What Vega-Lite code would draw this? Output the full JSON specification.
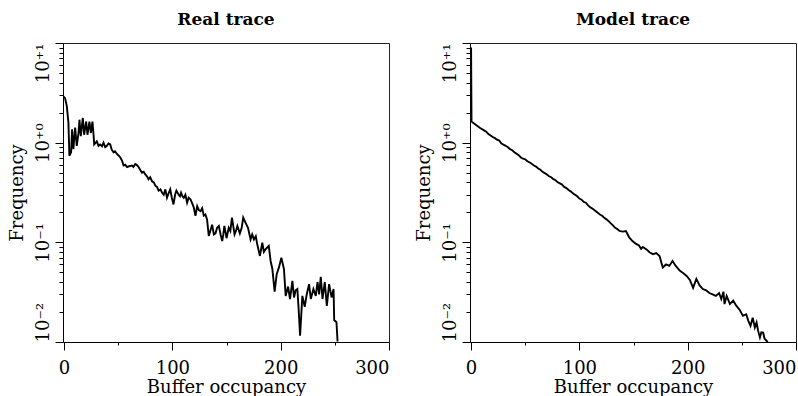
{
  "$schema": "https://vega.github.io/schema/vega-lite/v6.json",
  "background": "white",
  "padding": {"left": 7, "top": 10, "right": 0, "bottom": 0},
  "spacing": 24,
  "config": {
    "view": {"stroke": "#222", "strokeWidth": 1},
    "font": "DejaVu Serif",
    "title": {"font": "DejaVu Serif", "fontSize": 17, "fontWeight": "bold", "color": "black", "offset": 14},
    "axis": {
      "grid": false,
      "domainColor": "black",
      "tickColor": "black",
      "labelColor": "black",
      "titleColor": "black",
      "labelFont": "DejaVu Serif",
      "titleFont": "DejaVu Serif",
      "labelFontSize": 18,
      "titleFontSize": 18,
      "titleFontWeight": "normal"
    }
  },
  "datasets": {
    "real": [
      {"occupancy": -0.6, "frequency": 2.92}, {"occupancy": 0.9, "frequency": 2.8}, {"occupancy": 2.5, "frequency": 2.33}, {"occupancy": 4, "frequency": 1.6}, {"occupancy": 4.9, "frequency": 0.74}, {"occupancy": 6.5, "frequency": 0.8}, {"occupancy": 7.4, "frequency": 1.36}, {"occupancy": 8.6, "frequency": 0.86}, {"occupancy": 10.2, "frequency": 1.42}, {"occupancy": 11.7, "frequency": 0.93}, {"occupancy": 13.3, "frequency": 1.25}, {"occupancy": 14.2, "frequency": 1.7}, {"occupancy": 15.4, "frequency": 1.16}, {"occupancy": 17.3, "frequency": 1.77}, {"occupancy": 18.5, "frequency": 1.2}, {"occupancy": 20.4, "frequency": 1.63}, {"occupancy": 21.6, "frequency": 1.2}, {"occupancy": 23.4, "frequency": 1.63}, {"occupancy": 24.7, "frequency": 1.25}, {"occupancy": 26.2, "frequency": 1.63}, {"occupancy": 27.2, "frequency": 1.2}, {"occupancy": 27.8, "frequency": 0.96}, {"occupancy": 30.2, "frequency": 1.03}, {"occupancy": 31.8, "frequency": 0.93}, {"occupancy": 33.3, "frequency": 0.96}, {"occupancy": 35, "frequency": 0.92}, {"occupancy": 36.4, "frequency": 1.0}, {"occupancy": 38, "frequency": 0.9}, {"occupancy": 39.5, "frequency": 0.93}, {"occupancy": 41, "frequency": 0.98}, {"occupancy": 42.6, "frequency": 0.96}, {"occupancy": 44, "frequency": 0.85}, {"occupancy": 45.7, "frequency": 0.8}, {"occupancy": 47, "frequency": 0.82}, {"occupancy": 48.8, "frequency": 0.77}, {"occupancy": 50.5, "frequency": 0.74}, {"occupancy": 51.9, "frequency": 0.71}, {"occupancy": 53.5, "frequency": 0.66}, {"occupancy": 54.9, "frequency": 0.59}, {"occupancy": 56.5, "frequency": 0.6}, {"occupancy": 58, "frequency": 0.57}, {"occupancy": 60, "frequency": 0.58}, {"occupancy": 62.7, "frequency": 0.59}, {"occupancy": 64, "frequency": 0.57}, {"occupancy": 65.7, "frequency": 0.61}, {"occupancy": 67, "frequency": 0.6}, {"occupancy": 68.8, "frequency": 0.57}, {"occupancy": 70.5, "frequency": 0.53}, {"occupancy": 71.9, "frequency": 0.5}, {"occupancy": 73.5, "frequency": 0.51}, {"occupancy": 75, "frequency": 0.48}, {"occupancy": 76.5, "frequency": 0.46}, {"occupancy": 78, "frequency": 0.43}, {"occupancy": 79.5, "frequency": 0.45}, {"occupancy": 81.2, "frequency": 0.41}, {"occupancy": 82.8, "frequency": 0.4}, {"occupancy": 84.3, "frequency": 0.37}, {"occupancy": 85.8, "frequency": 0.36}, {"occupancy": 87.3, "frequency": 0.33}, {"occupancy": 89, "frequency": 0.34}, {"occupancy": 90.5, "frequency": 0.315}, {"occupancy": 92, "frequency": 0.3}, {"occupancy": 93.5, "frequency": 0.34}, {"occupancy": 95, "frequency": 0.28}, {"occupancy": 96.5, "frequency": 0.31}, {"occupancy": 98, "frequency": 0.34}, {"occupancy": 99.5, "frequency": 0.28}, {"occupancy": 101, "frequency": 0.24}, {"occupancy": 102.5, "frequency": 0.3}, {"occupancy": 103.7, "frequency": 0.33}, {"occupancy": 105.8, "frequency": 0.3}, {"occupancy": 107, "frequency": 0.29}, {"occupancy": 108, "frequency": 0.315}, {"occupancy": 109.3, "frequency": 0.29}, {"occupancy": 110.5, "frequency": 0.28}, {"occupancy": 112, "frequency": 0.3}, {"occupancy": 113.6, "frequency": 0.25}, {"occupancy": 115, "frequency": 0.28}, {"occupancy": 116.7, "frequency": 0.27}, {"occupancy": 118, "frequency": 0.25}, {"occupancy": 119.7, "frequency": 0.225}, {"occupancy": 121.3, "frequency": 0.185}, {"occupancy": 122.9, "frequency": 0.23}, {"occupancy": 124.5, "frequency": 0.21}, {"occupancy": 126, "frequency": 0.205}, {"occupancy": 127.5, "frequency": 0.22}, {"occupancy": 129, "frequency": 0.185}, {"occupancy": 130.5, "frequency": 0.19}, {"occupancy": 132, "frequency": 0.17}, {"occupancy": 133.6, "frequency": 0.116}, {"occupancy": 135, "frequency": 0.13}, {"occupancy": 136.7, "frequency": 0.15}, {"occupancy": 138.3, "frequency": 0.12}, {"occupancy": 139.8, "frequency": 0.123}, {"occupancy": 141.3, "frequency": 0.14}, {"occupancy": 142.9, "frequency": 0.146}, {"occupancy": 144.5, "frequency": 0.12}, {"occupancy": 146, "frequency": 0.103}, {"occupancy": 147, "frequency": 0.12}, {"occupancy": 148, "frequency": 0.146}, {"occupancy": 150, "frequency": 0.11}, {"occupancy": 152, "frequency": 0.14}, {"occupancy": 153.5, "frequency": 0.13}, {"occupancy": 155, "frequency": 0.177}, {"occupancy": 157.4, "frequency": 0.12}, {"occupancy": 158.7, "frequency": 0.13}, {"occupancy": 160, "frequency": 0.146}, {"occupancy": 162.3, "frequency": 0.123}, {"occupancy": 164, "frequency": 0.14}, {"occupancy": 165.4, "frequency": 0.177}, {"occupancy": 167.6, "frequency": 0.157}, {"occupancy": 169.8, "frequency": 0.14}, {"occupancy": 172.2, "frequency": 0.107}, {"occupancy": 173.7, "frequency": 0.12}, {"occupancy": 175.3, "frequency": 0.107}, {"occupancy": 177, "frequency": 0.115}, {"occupancy": 178.4, "frequency": 0.095}, {"occupancy": 180.8, "frequency": 0.073}, {"occupancy": 183, "frequency": 0.099}, {"occupancy": 184.5, "frequency": 0.08}, {"occupancy": 186, "frequency": 0.085}, {"occupancy": 189, "frequency": 0.092}, {"occupancy": 190.7, "frequency": 0.065}, {"occupancy": 192.3, "frequency": 0.054}, {"occupancy": 194.4, "frequency": 0.032}, {"occupancy": 196.3, "frequency": 0.048}, {"occupancy": 198.4, "frequency": 0.056}, {"occupancy": 200.6, "frequency": 0.07}, {"occupancy": 203, "frequency": 0.054}, {"occupancy": 204.6, "frequency": 0.029}, {"occupancy": 206.8, "frequency": 0.036}, {"occupancy": 208.6, "frequency": 0.027}, {"occupancy": 210.8, "frequency": 0.041}, {"occupancy": 212.3, "frequency": 0.028}, {"occupancy": 213.8, "frequency": 0.033}, {"occupancy": 215.4, "frequency": 0.034}, {"occupancy": 216.5, "frequency": 0.022}, {"occupancy": 217.9, "frequency": 0.0116}, {"occupancy": 220, "frequency": 0.029}, {"occupancy": 222.2, "frequency": 0.0225}, {"occupancy": 224, "frequency": 0.03}, {"occupancy": 226.2, "frequency": 0.038}, {"occupancy": 227.8, "frequency": 0.027}, {"occupancy": 230.2, "frequency": 0.034}, {"occupancy": 232.4, "frequency": 0.029}, {"occupancy": 234, "frequency": 0.04}, {"occupancy": 235.5, "frequency": 0.03}, {"occupancy": 237, "frequency": 0.045}, {"occupancy": 238.6, "frequency": 0.027}, {"occupancy": 240.7, "frequency": 0.04}, {"occupancy": 242.6, "frequency": 0.023}, {"occupancy": 244.7, "frequency": 0.038}, {"occupancy": 247, "frequency": 0.028}, {"occupancy": 248.8, "frequency": 0.034}, {"occupancy": 249.4, "frequency": 0.0166}, {"occupancy": 251.5, "frequency": 0.0158}, {"occupancy": 252.5, "frequency": 0.0101}
    ],
    "model": [
      {"occupancy": 0, "frequency": 9.0}, {"occupancy": 0.4, "frequency": 1.63}, {"occupancy": 4, "frequency": 1.52}, {"occupancy": 8, "frequency": 1.41}, {"occupancy": 12, "frequency": 1.33}, {"occupancy": 14, "frequency": 1.29}, {"occupancy": 16, "frequency": 1.22}, {"occupancy": 20, "frequency": 1.14}, {"occupancy": 22, "frequency": 1.11}, {"occupancy": 24, "frequency": 1.07}, {"occupancy": 26, "frequency": 1.05}, {"occupancy": 28, "frequency": 0.98}, {"occupancy": 32, "frequency": 0.93}, {"occupancy": 34, "frequency": 0.90}, {"occupancy": 36, "frequency": 0.86}, {"occupancy": 38, "frequency": 0.84}, {"occupancy": 40, "frequency": 0.8}, {"occupancy": 44, "frequency": 0.75}, {"occupancy": 46, "frequency": 0.71}, {"occupancy": 48, "frequency": 0.69}, {"occupancy": 50, "frequency": 0.68}, {"occupancy": 52, "frequency": 0.65}, {"occupancy": 55, "frequency": 0.626}, {"occupancy": 58, "frequency": 0.59}, {"occupancy": 60, "frequency": 0.575}, {"occupancy": 62, "frequency": 0.55}, {"occupancy": 64, "frequency": 0.535}, {"occupancy": 66, "frequency": 0.51}, {"occupancy": 68, "frequency": 0.495}, {"occupancy": 70, "frequency": 0.48}, {"occupancy": 72, "frequency": 0.46}, {"occupancy": 74, "frequency": 0.45}, {"occupancy": 76, "frequency": 0.43}, {"occupancy": 78, "frequency": 0.42}, {"occupancy": 80, "frequency": 0.40}, {"occupancy": 82, "frequency": 0.39}, {"occupancy": 84, "frequency": 0.38}, {"occupancy": 86, "frequency": 0.36}, {"occupancy": 88, "frequency": 0.35}, {"occupancy": 90, "frequency": 0.335}, {"occupancy": 92, "frequency": 0.325}, {"occupancy": 94, "frequency": 0.31}, {"occupancy": 96, "frequency": 0.30}, {"occupancy": 98, "frequency": 0.29}, {"occupancy": 100, "frequency": 0.275}, {"occupancy": 102, "frequency": 0.268}, {"occupancy": 104, "frequency": 0.255}, {"occupancy": 106, "frequency": 0.25}, {"occupancy": 108, "frequency": 0.235}, {"occupancy": 110, "frequency": 0.225}, {"occupancy": 112, "frequency": 0.218}, {"occupancy": 114, "frequency": 0.21}, {"occupancy": 117, "frequency": 0.198}, {"occupancy": 119, "frequency": 0.19}, {"occupancy": 121, "frequency": 0.185}, {"occupancy": 123, "frequency": 0.176}, {"occupancy": 125, "frequency": 0.17}, {"occupancy": 127, "frequency": 0.163}, {"occupancy": 129, "frequency": 0.155}, {"occupancy": 131, "frequency": 0.148}, {"occupancy": 133, "frequency": 0.14}, {"occupancy": 135, "frequency": 0.136}, {"occupancy": 137, "frequency": 0.13}, {"occupancy": 140, "frequency": 0.128}, {"occupancy": 143, "frequency": 0.13}, {"occupancy": 146, "frequency": 0.112}, {"occupancy": 149, "frequency": 0.103}, {"occupancy": 152, "frequency": 0.097}, {"occupancy": 155, "frequency": 0.093}, {"occupancy": 157, "frequency": 0.086}, {"occupancy": 158.6, "frequency": 0.09}, {"occupancy": 162, "frequency": 0.085}, {"occupancy": 165, "frequency": 0.079}, {"occupancy": 168, "frequency": 0.076}, {"occupancy": 171, "frequency": 0.078}, {"occupancy": 174, "frequency": 0.073}, {"occupancy": 177, "frequency": 0.056}, {"occupancy": 180, "frequency": 0.06}, {"occupancy": 183, "frequency": 0.058}, {"occupancy": 186, "frequency": 0.065}, {"occupancy": 189, "frequency": 0.058}, {"occupancy": 192.6, "frequency": 0.052}, {"occupancy": 196, "frequency": 0.049}, {"occupancy": 199, "frequency": 0.046}, {"occupancy": 202, "frequency": 0.042}, {"occupancy": 205, "frequency": 0.035}, {"occupancy": 208, "frequency": 0.043}, {"occupancy": 211, "frequency": 0.037}, {"occupancy": 214, "frequency": 0.034}, {"occupancy": 217, "frequency": 0.033}, {"occupancy": 220, "frequency": 0.031}, {"occupancy": 223, "frequency": 0.03}, {"occupancy": 226, "frequency": 0.029}, {"occupancy": 229, "frequency": 0.031}, {"occupancy": 231, "frequency": 0.027}, {"occupancy": 233, "frequency": 0.032}, {"occupancy": 234, "frequency": 0.024}, {"occupancy": 236, "frequency": 0.029}, {"occupancy": 239, "frequency": 0.024}, {"occupancy": 242, "frequency": 0.026}, {"occupancy": 245, "frequency": 0.023}, {"occupancy": 248, "frequency": 0.021}, {"occupancy": 251, "frequency": 0.0183}, {"occupancy": 254, "frequency": 0.019}, {"occupancy": 256, "frequency": 0.0163}, {"occupancy": 258, "frequency": 0.0145}, {"occupancy": 260, "frequency": 0.0175}, {"occupancy": 262, "frequency": 0.014}, {"occupancy": 263.6, "frequency": 0.0157}, {"occupancy": 265, "frequency": 0.013}, {"occupancy": 266.7, "frequency": 0.0111}, {"occupancy": 268, "frequency": 0.0125}, {"occupancy": 269.7, "frequency": 0.0124}, {"occupancy": 271, "frequency": 0.0108}, {"occupancy": 272.8, "frequency": 0.0103}, {"occupancy": 274, "frequency": 0.01}
    ]
  },
  "hconcat": [
    {
      "title": "Real trace",
      "width": 326,
      "height": 299,
      "data": {"name": "real"},
      "mark": {"type": "line", "color": "black", "strokeWidth": 1.9, "clip": true, "interpolate": "linear"},
      "encoding": {
        "x": {
          "field": "occupancy", "type": "quantitative",
          "scale": {"domain": [-1, 300], "nice": false, "zero": false},
          "axis": {
            "title": "Buffer occupancy", "titlePadding": 1,
            "values": [0, 50, 100, 150, 200, 250, 300],
            "labelExpr": "datum.value % 100 == 0 ? datum.label : ''",
            "labelFlush": true, "labelPadding": 9,
            "tickSize": {"condition": {"test": "datum.value % 100 == 0", "value": 8}, "value": 3}
          }
        },
        "y": {
          "field": "frequency", "type": "quantitative",
          "scale": {"type": "log", "domain": [0.01, 10], "nice": false},
          "axis": {
            "title": "Frequency", "titlePadding": 8,
            "values": [0.01, 0.02, 0.03, 0.04, 0.05, 0.06, 0.07, 0.08, 0.09, 0.1, 0.2, 0.3, 0.4, 0.5, 0.6, 0.7, 0.8, 0.9, 1, 2, 3, 4, 5, 6, 7, 8, 9, 10],
            "labelExpr": "datum.value == 10 ? '10⁺¹' : datum.value == 1 ? '10⁺⁰' : datum.value == 0.1 ? '10⁻¹' : datum.value == 0.01 ? '10⁻²' : ''",
            "labelAngle": -90, "labelPadding": 3,
            "labelAlign": {"condition": [{"test": "datum.value == 10", "value": "right"}, {"test": "datum.value == 0.01", "value": "left"}], "value": "center"},
            "tickSize": {"condition": {"test": "datum.value == 10 || datum.value == 1 || datum.value == 0.1 || datum.value == 0.01", "value": 8}, "value": 4}
          }
        }
      }
    },
    {
      "title": "Model trace",
      "width": 326,
      "height": 299,
      "data": {"name": "model"},
      "mark": {"type": "line", "color": "black", "strokeWidth": 1.9, "clip": true, "interpolate": "linear"},
      "encoding": {
        "x": {
          "field": "occupancy", "type": "quantitative",
          "scale": {"domain": [-1, 300], "nice": false, "zero": false},
          "axis": {
            "title": "Buffer occupancy", "titlePadding": 1,
            "values": [0, 50, 100, 150, 200, 250, 300],
            "labelExpr": "datum.value % 100 == 0 ? datum.label : ''",
            "labelFlush": true, "labelPadding": 9,
            "tickSize": {"condition": {"test": "datum.value % 100 == 0", "value": 8}, "value": 3}
          }
        },
        "y": {
          "field": "frequency", "type": "quantitative",
          "scale": {"type": "log", "domain": [0.01, 10], "nice": false},
          "axis": {
            "title": "Frequency", "titlePadding": 8,
            "values": [0.01, 0.02, 0.03, 0.04, 0.05, 0.06, 0.07, 0.08, 0.09, 0.1, 0.2, 0.3, 0.4, 0.5, 0.6, 0.7, 0.8, 0.9, 1, 2, 3, 4, 5, 6, 7, 8, 9, 10],
            "labelExpr": "datum.value == 10 ? '10⁺¹' : datum.value == 1 ? '10⁺⁰' : datum.value == 0.1 ? '10⁻¹' : datum.value == 0.01 ? '10⁻²' : ''",
            "labelAngle": -90, "labelPadding": 3,
            "labelAlign": {"condition": [{"test": "datum.value == 10", "value": "right"}, {"test": "datum.value == 0.01", "value": "left"}], "value": "center"},
            "tickSize": {"condition": {"test": "datum.value == 10 || datum.value == 1 || datum.value == 0.1 || datum.value == 0.01", "value": 8}, "value": 4}
          }
        }
      }
    }
  ]
}
